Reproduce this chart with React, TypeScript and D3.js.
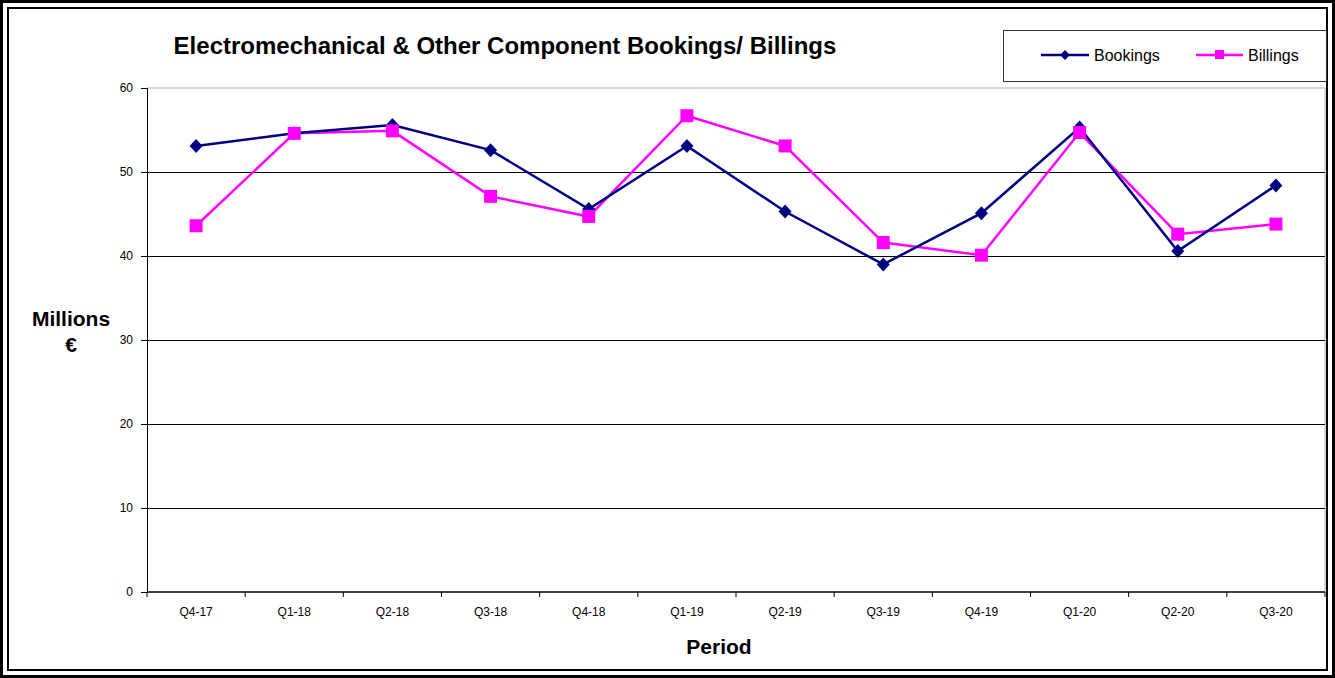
import React, { useRef, useEffect } from 'react';
import * as d3 from 'd3';

const periods = ['Q4-17', 'Q1-18', 'Q2-18', 'Q3-18', 'Q4-18', 'Q1-19', 'Q2-19', 'Q3-19', 'Q4-19', 'Q1-20', 'Q2-20', 'Q3-20'];
const bookings = [53.1, 54.6, 55.6, 52.6, 45.6, 53.1, 45.3, 39.0, 45.1, 55.3, 40.6, 48.4];
const billings = [43.6, 54.6, 54.9, 47.1, 44.7, 56.7, 53.1, 41.6, 40.1, 54.7, 42.6, 43.8];
const yTicks = [0, 10, 20, 30, 40, 50, 60];

const width = 1335;
const height = 678;

const App: React.FC = () => {
  const svgRef = useRef<SVGSVGElement>(null);

  useEffect(() => {
    const svg = d3.select(svgRef.current);
    svg.selectAll('*').remove();

    const margin = { top: 88, right: 10, bottom: 86, left: 147 };
    const innerWidth = width - margin.left - margin.right;
    const innerHeight = height - margin.top - margin.bottom;
    const font = 'Liberation Sans, Arial, sans-serif';

    // double outer frame
    svg.append('rect').attr('x', 1.5).attr('y', 1.5).attr('width', width - 3).attr('height', height - 3)
      .attr('fill', 'white').attr('stroke', '#000').attr('stroke-width', 3);
    svg.append('rect').attr('x', 8).attr('y', 8).attr('width', width - 16).attr('height', height - 16)
      .attr('fill', 'none').attr('stroke', '#000').attr('stroke-width', 2);

    const x = d3.scaleBand<string>().domain(periods).range([0, innerWidth]);
    const y = d3.scaleLinear().domain([0, 60]).range([innerHeight, 0]);

    const g = svg.append('g').attr('transform', `translate(${margin.left},${margin.top})`);

    // plot area border (light grey top/right)
    g.append('path')
      .attr('d', `M0,0H${innerWidth}V${innerHeight}`)
      .attr('fill', 'none').attr('stroke', '#d8d8d8').attr('stroke-width', 2);

    // gridlines
    g.selectAll('.grid')
      .data(yTicks.filter(t => t > 0 && t < 60))
      .enter()
      .append('line')
      .attr('x1', 0).attr('x2', innerWidth)
      .attr('y1', d => Math.round(y(d)) + 0.5).attr('y2', d => Math.round(y(d)) + 0.5)
      .attr('stroke', '#000').attr('stroke-width', 1)
      .attr('shape-rendering', 'crispEdges');

    // y axis
    const yAxis = d3.axisLeft(y).tickValues(yTicks).tickSize(6).tickPadding(8);
    const ya = g.append('g').call(yAxis);
    ya.select('.domain').attr('stroke', '#000').attr('shape-rendering', 'crispEdges');
    ya.selectAll('line').attr('shape-rendering', 'crispEdges');
    ya.selectAll('text').style('font-family', font).style('font-size', '12px').attr('fill', '#000');

    // x axis
    const xa = g.append('g').attr('transform', `translate(0,${innerHeight})`);
    xa.append('line').attr('x1', 0).attr('x2', innerWidth).attr('stroke', '#000').attr('stroke-width', 1.5);
    const boundaries = d3.range(periods.length + 1).map(i => i * x.bandwidth());
    xa.selectAll('.xt').data(boundaries).enter().append('line')
      .attr('x1', d => d).attr('x2', d => d).attr('y1', 0).attr('y2', 5).attr('stroke', '#000');
    xa.selectAll('.xl').data(periods).enter().append('text')
      .attr('x', d => (x(d) || 0) + x.bandwidth() / 2)
      .attr('y', 24)
      .attr('text-anchor', 'middle')
      .style('font-family', font).style('font-size', '12px')
      .text(d => d);

    const cx = (i: number) => (x(periods[i]) || 0) + x.bandwidth() / 2;
    const line = d3.line<number>().x((_, i) => cx(i)).y(d => y(d));

    g.append('path').datum(billings).attr('fill', 'none').attr('stroke', '#ff00ff').attr('stroke-width', 2.5).attr('d', line);
    g.append('path').datum(bookings).attr('fill', 'none').attr('stroke', '#000080').attr('stroke-width', 2.5).attr('d', line);

    const diamond = 'M0,-7L6.5,0L0,7L-6.5,0Z';
    g.selectAll('.bk').data(bookings).enter().append('path')
      .attr('d', diamond)
      .attr('transform', (d, i) => `translate(${cx(i)},${y(d)})`)
      .attr('fill', '#000080');

    g.selectAll('.bl').data(billings).enter().append('rect')
      .attr('x', (d, i) => cx(i) - 6.5).attr('y', d => y(d) - 6.5)
      .attr('width', 13).attr('height', 13)
      .attr('fill', '#ff00ff');

    // title
    svg.append('text')
      .attr('x', 505).attr('y', 54)
      .attr('text-anchor', 'middle')
      .style('font-family', font).style('font-size', '24px').style('font-weight', 'bold')
      .text('Electromechanical & Other Component Bookings/ Billings');

    // y label
    svg.append('text').attr('x', 71).attr('y', 326).attr('text-anchor', 'middle')
      .style('font-family', font).style('font-size', '21px').style('font-weight', 'bold').text('Millions');
    svg.append('text').attr('x', 71).attr('y', 352).attr('text-anchor', 'middle')
      .style('font-family', font).style('font-size', '21px').style('font-weight', 'bold').text('€');

    // x label
    svg.append('text').attr('x', 719).attr('y', 654).attr('text-anchor', 'middle')
      .style('font-family', font).style('font-size', '21px').style('font-weight', 'bold').text('Period');

    // legend
    const lg = svg.append('g');
    lg.append('rect').attr('x', 1003.5).attr('y', 30.5).attr('width', 323).attr('height', 51)
      .attr('fill', 'white').attr('stroke', '#333').attr('stroke-width', 1);
    lg.append('line').attr('x1', 1041).attr('x2', 1089).attr('y1', 55).attr('y2', 55).attr('stroke', '#000080').attr('stroke-width', 2.5);
    lg.append('path').attr('d', diamond).attr('transform', 'translate(1065,55) scale(0.75,0.7)').attr('fill', '#000080');
    lg.append('text').attr('x', 1094).attr('y', 61).style('font-family', font).style('font-size', '16px').text('Bookings');
    lg.append('line').attr('x1', 1196).attr('x2', 1243).attr('y1', 55).attr('y2', 55).attr('stroke', '#ff00ff').attr('stroke-width', 2.5);
    lg.append('rect').attr('x', 1215).attr('y', 50).attr('width', 9).attr('height', 9).attr('fill', '#ff00ff');
    lg.append('text').attr('x', 1248).attr('y', 61).style('font-family', font).style('font-size', '16px').text('Billings');
  }, []);

  return (
    <div style={{ position: 'absolute', left: 0, top: 0 }}>
      <svg ref={svgRef} width={width} height={height} style={{ display: 'block' }} />
    </div>
  );
};

export default App;
